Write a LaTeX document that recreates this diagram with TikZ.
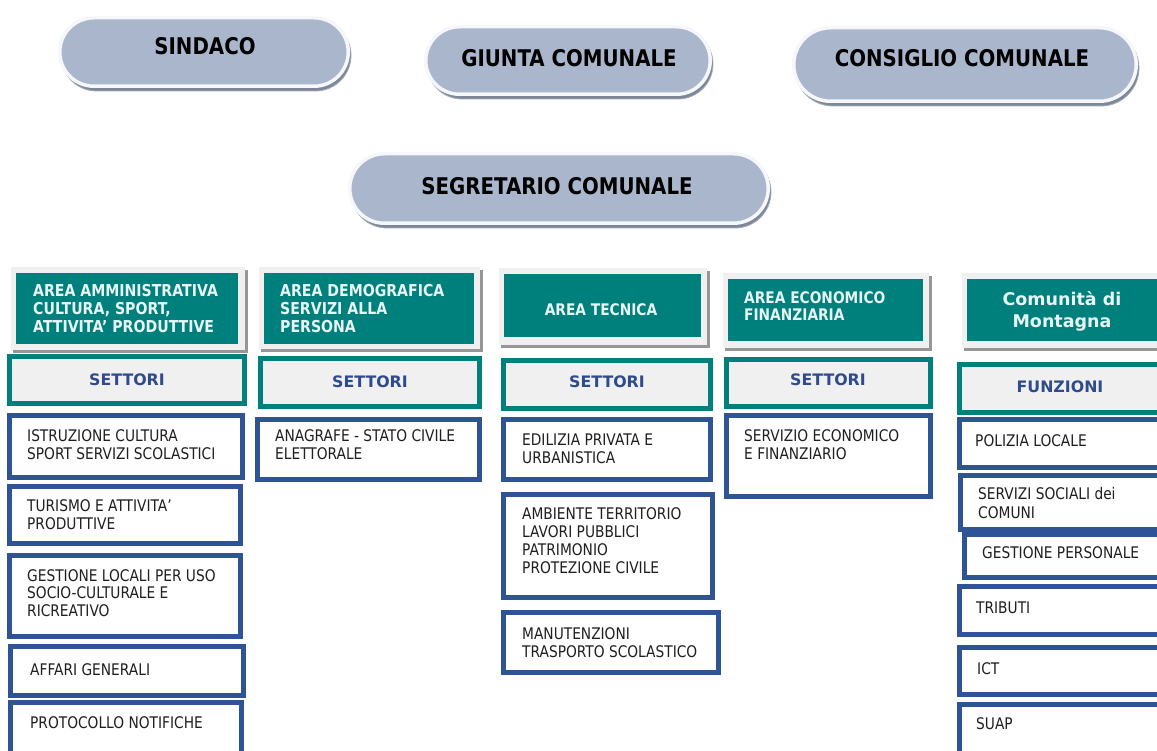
\documentclass[tikz,border=0pt]{standalone}
\usepackage{fontspec}
\setmainfont{DejaVu Sans}
\newfontfamily\tah[FakeStretch=0.86]{DejaVu Sans}
\usetikzlibrary{fit,shapes.misc}
\definecolor{tealc}{RGB}{0,128,124}
\definecolor{headtxt}{RGB}{232,245,245}
\definecolor{framefill}{RGB}{240,240,240}
\definecolor{framesh}{RGB}{150,150,150}
\definecolor{settfill}{RGB}{240,240,240}
\definecolor{settxt}{RGB}{47,75,140}
\definecolor{itemblue}{RGB}{47,84,150}
\definecolor{pillfill}{RGB}{170,182,203}
\definecolor{pillring}{RGB}{245,247,250}
\definecolor{pillsh}{RGB}{125,135,153}
\begin{document}
\begin{tikzpicture}[x=1pt,y=-1pt,
  pill/.style={rounded rectangle, fill=pillfill, draw=pillring, line width=3.5pt, inner sep=0pt},
  pillshadow/.style={rounded rectangle, fill=pillsh, draw=pillsh!70, line width=0.8pt, inner sep=0pt},
  hshadow/.style={rectangle, fill=framesh, inner sep=0pt},
  hframe/.style={rectangle, fill=framefill, inner sep=0pt},
  hteal/.style={rectangle, fill=tealc, inner sep=0pt},
  sett/.style={rectangle, fill=settfill, draw=tealc, line width=5pt, inner sep=-2.5pt},
  itembox/.style={rectangle, fill=white, draw=itemblue, line width=5pt, inner sep=-2.5pt},
  itxt/.style={anchor=north west, inner sep=0pt, align=left, text=black!88, font=\tah\fontsize{16}{18}\selectfont},
  htxt/.style={anchor=north west, inner sep=0pt, align=left, text=headtxt, font=\tah\bfseries\fontsize{16.4}{18}\selectfont},
  stxt/.style={inner sep=0pt, text=settxt, font=\bfseries\fontsize{15.8}{18}\selectfont},
  ptxt/.style={inner sep=0pt, text=black, font=\tah\bfseries\fontsize{23}{26}\selectfont}
]
\useasboundingbox (0,0) rectangle (1157,751);
\clip (0,0) rectangle (1157,751);
\fill[white] (0,0) rectangle (1157,751);

% ---- top pills ----
\node[pillshadow, minimum width=290pt, minimum height=71pt] (sindacosh) at (206,55.5) {};
\node[pill, minimum width=288.5pt, minimum height=68.5pt] (sindaco) at (204,52) {};
\node[ptxt] (sindacot) at (205,46) {SINDACO};

\node[pillshadow, minimum width=286pt, minimum height=70pt] (giuntash) at (570,64) {};
\node[pill, minimum width=284.5pt, minimum height=67.5pt] (giunta) at (568,60.5) {};
\node[ptxt] (giuntat) at (569,58) {GIUNTA COMUNALE};

\node[pillshadow, minimum width=344pt, minimum height=76pt] (consigliosh) at (967,68) {};
\node[pill, minimum width=342.5pt, minimum height=73.5pt] (consiglio) at (965,64.5) {};
\node[ptxt] (consigliot) at (962,58) {CONSIGLIO COMUNALE};

\node[pillshadow, minimum width=420pt, minimum height=72pt] (segretariosh) at (561,192) {};
\node[pill, minimum width=418.5pt, minimum height=69.5pt] (segretario) at (559,188.5) {};
\node[ptxt] (segretariot) at (557,186) {SEGRETARIO COMUNALE};

% ---- column headers ----
\node[hshadow, fit={(13,270) (248,353)}] (h1s) {};
\node[hframe, fit={(11,267) (245,350)}] (h1f) {};
\node[hteal, fit={(16,273) (238,344)}] (h1) {};
\node[htxt] (h1t) at (33,284) {AREA AMMINISTRATIVA\\CULTURA, SPORT,\\ATTIVITA’ PRODUTTIVE};

\node[hshadow, fit={(261,270) (483,352)}] (h2s) {};
\node[hframe, fit={(259,267) (480,349)}] (h2f) {};
\node[hteal, fit={(264,273) (474,344)}] (h2) {};
\node[htxt] (h2t) at (280,284) {AREA DEMOGRAFICA\\SERVIZI ALLA\\PERSONA};

\node[hshadow, fit={(501,271) (710,348)}] (h3s) {};
\node[hframe, fit={(499,268) (707,345)}] (h3f) {};
\node[hteal, fit={(504,274) (701,337)}] (h3) {};
\node[htxt, anchor=center, font=\tah\bfseries\fontsize{16}{18}\selectfont] (h3t) at (601,310) {AREA TECNICA};

\node[hshadow, fit={(725,276) (932,351)}] (h4s) {};
\node[hframe, fit={(723,273) (929,348)}] (h4f) {};
\node[hteal, fit={(728,279) (923,341)}] (h4) {};
\node[htxt, font=\tah\bfseries\fontsize{16}{17}\selectfont] (h4t) at (744,291) {AREA ECONOMICO\\FINANZIARIA};

\node[hshadow, fit={(964,276) (1170,351)}] (h5s) {};
\node[hframe, fit={(962,273) (1168,348)}] (h5f) {};
\node[hteal, fit={(967,279) (1158,341)}] (h5) {};
\node[htxt, anchor=center, align=center, font=\bfseries\fontsize{17.5}{22}\selectfont] (h5t) at (1062,311) {Comunità di\\Montagna};

% ---- settori / funzioni ----
\node[sett, fit={(7,354) (247,406)}] (s1) {};
\node[stxt] (s1t) at (127,380) {SETTORI};
\node[sett, fit={(258,356) (482,409)}] (s2) {};
\node[stxt] (s2t) at (370,382) {SETTORI};
\node[sett, fit={(501,358) (713,411)}] (s3) {};
\node[stxt] (s3t) at (607,382) {SETTORI};
\node[sett, fit={(724,357) (933,409)}] (s4) {};
\node[stxt] (s4t) at (828,380) {SETTORI};
\node[sett, fit={(957,362) (1165,415)}] (s5) {};
\node[stxt] (s5t) at (1060,387) {FUNZIONI};

% ---- column 1 items ----
\node[itembox, fit={(7,413) (245,480)}] (i11) {};
\node[itxt] (i11t) at (27,429) {ISTRUZIONE CULTURA\\SPORT SERVIZI SCOLASTICI};
\node[itembox, fit={(7,484) (243,546)}] (i12) {};
\node[itxt] (i12t) at (27,499) {TURISMO E ATTIVITA’\\PRODUTTIVE};
\node[itembox, fit={(7,553) (243,639)}] (i13) {};
\node[itxt, font=\tah\fontsize{16}{17.5}\selectfont] (i13t) at (27,569) {GESTIONE LOCALI PER USO\\SOCIO-CULTURALE E\\RICREATIVO};
\node[itembox, fit={(8,644) (246,698)}] (i14) {};
\node[itxt] (i14t) at (30,663) {AFFARI GENERALI};
\node[itembox, fit={(8,700) (244,765)}] (i15) {};
\node[itxt] (i15t) at (30,716) {PROTOCOLLO NOTIFICHE};

% ---- column 2 items ----
\node[itembox, fit={(255,417) (482,482)}] (i21) {};
\node[itxt] (i21t) at (275,429) {ANAGRAFE - STATO CIVILE\\ELETTORALE};

% ---- column 3 items ----
\node[itembox, fit={(501,417) (713,482)}] (i31) {};
\node[itxt] (i31t) at (522,434) {EDILIZIA PRIVATA E\\URBANISTICA};
\node[itembox, fit={(501,492) (715,600)}] (i32) {};
\node[itxt] (i32t) at (522,507) {AMBIENTE TERRITORIO\\LAVORI PUBBLICI\\PATRIMONIO\\PROTEZIONE CIVILE};
\node[itembox, fit={(501,610) (721,675)}] (i33) {};
\node[itxt] (i33t) at (522,627) {MANUTENZIONI\\TRASPORTO SCOLASTICO};

% ---- column 4 items ----
\node[itembox, fit={(724,413) (933,499)}] (i41) {};
\node[itxt] (i41t) at (744,429) {SERVIZIO ECONOMICO\\E FINANZIARIO};

% ---- column 5 items ----
\node[itembox, fit={(957,417) (1170,470)}] (i51) {};
\node[itxt] (i51t) at (975,434) {POLIZIA LOCALE};
\node[itembox, fit={(958,473) (1170,532)}] (i52) {};
\node[itxt, font=\tah\fontsize{16}{19}\selectfont] (i52t) at (978,487) {SERVIZI SOCIALI dei\\COMUNI};
\node[itembox, fit={(962,532) (1170,580)}] (i53) {};
\node[itxt] (i53t) at (982,546) {GESTIONE PERSONALE};
\node[itembox, fit={(957,584) (1170,637)}] (i54) {};
\node[itxt] (i54t) at (976,602) {TRIBUTI};
\node[itembox, fit={(957,645) (1170,697)}] (i55) {};
\node[itxt] (i55t) at (977,662) {ICT};
\node[itembox, fit={(957,702) (1170,765)}] (i56) {};
\node[itxt] (i56t) at (976,717) {SUAP};
\end{tikzpicture}
\end{document}
